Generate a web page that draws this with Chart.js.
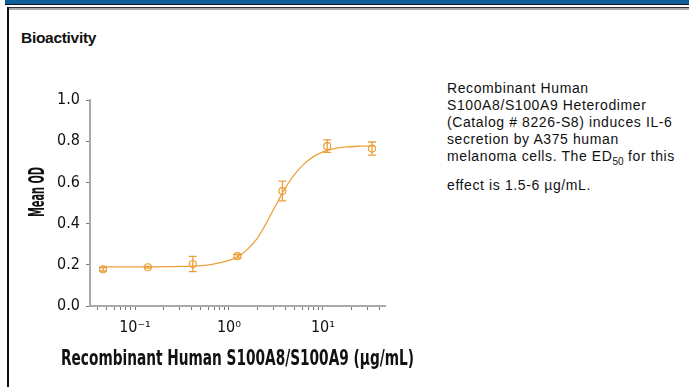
<!DOCTYPE html>
<html>
<head>
<meta charset="utf-8">
<script src="https://cdn.jsdelivr.net/npm/chart.js@4.4.1/dist/chart.umd.min.js"></script>
<style>
html, body { margin: 0; padding: 0; background: #fff; width: 689px; height: 387px; overflow: hidden; position: relative; font-family: "Liberation Sans", Arial, sans-serif; }
#topbar { position: absolute; left: 5px; top: 0; width: 684px; height: 4px; background: #0f5e9c; }
#line1 { position: absolute; left: 5px; top: 4px; width: 684px; height: 1px; background: #111; }
#line2 { position: absolute; left: 7px; top: 7px; width: 682px; height: 1px; background: #333; }
#line3 { position: absolute; left: 7px; top: 8px; width: 682px; height: 2px; background: #aaa; }
#leftborder { position: absolute; left: 7px; top: 7px; width: 2px; height: 380px; background: #111; }
#heading { position: absolute; left: 21px; top: 29px; font-weight: bold; font-size: 15.5px; color: #111; letter-spacing: -0.3px; }
#desc { position: absolute; left: 447px; top: 80px; width: 242px; font-size: 14px; letter-spacing: 0.6px; line-height: 17px; color: #111; white-space: nowrap; }
#desc sub { font-size: 10px; vertical-align: -4px; line-height: 0; letter-spacing: 0; }
#desc .last { display: block; margin-top: 12px; }
#wrap { position: absolute; left: 0; top: 0; width: 440px; height: 387px; }
</style>
</head>
<body>
<div id="topbar"></div>
<div id="line1"></div>
<div id="line2"></div>
<div id="line3"></div>
<div id="leftborder"></div>
<div id="heading">Bioactivity</div>
<div id="desc">Recombinant Human<br>S100A8/S100A9 Heterodimer<br>(Catalog # 8226-S8) induces IL-6<br>secretion by A375 human<br>melanoma cells. The ED<sub>50</sub> for this<span class="last">effect is 1.5-6 µg/mL.</span></div>
<div id="wrap"><canvas id="chart"></canvas></div>
<script>
// measured points (dose in ug/mL, mean OD, error)
const doseX = [0.0457, 0.137, 0.412, 1.23, 3.70, 11.1, 33.3];
const meanOD = [0.178, 0.188, 0.204, 0.242, 0.558, 0.776, 0.764];
const errOD = [0.008, 0.004, 0.037, 0.008, 0.048, 0.030, 0.032];

// fitted curve
const fitX = [0.0447, 0.1, 0.316, 0.562, 1.0, 1.26, 1.58, 2.0, 2.51, 3.16, 3.98, 5.01, 6.31, 7.94, 10.0, 12.6, 17.8, 25.1, 35.5];
const fitOD = [0.190, 0.190, 0.192, 0.197, 0.221, 0.241, 0.276, 0.328, 0.405, 0.490, 0.573, 0.640, 0.690, 0.725, 0.748, 0.762, 0.772, 0.776, 0.778];

// axis ticks
const xTickValues = [0.04, 0.05, 0.06, 0.07, 0.08, 0.09, 0.1, 0.2, 0.3, 0.4, 0.5, 0.6, 0.7, 0.8, 0.9, 1, 2, 3, 4, 5, 6, 7, 8, 9, 10, 20, 30, 40];
const xMajorTicks = [0.1, 1, 10];
const xMajorLabels = ['10⁻¹', '10⁰', '10¹'];
const yTickValues = [0, 0.2, 0.4, 0.6, 0.8, 1.0];

const xTitle = 'Recombinant Human S100A8/S100A9 (µg/mL)';
const yTitle = 'Mean OD';

const orange = '#eca03a';
const narrow = '"Liberation Sans Narrow", "DejaVu Sans Condensed", sans-serif';

// draws the error bars using the chart scales
const errorBars = {
    id: 'errorBars',
    afterDatasetsDraw(chart) {
        const ctx = chart.ctx;
        const x = chart.scales.x;
        const y = chart.scales.y;
        ctx.save();
        ctx.strokeStyle = orange;
        ctx.lineWidth = 1.3;
        doseX.forEach((d, i) => {
            const px = x.getPixelForValue(d);
            const top = y.getPixelForValue(meanOD[i] + errOD[i]);
            const bot = y.getPixelForValue(meanOD[i] - errOD[i]);
            ctx.beginPath();
            ctx.moveTo(px, top); ctx.lineTo(px, bot);
            ctx.moveTo(px - 4, top); ctx.lineTo(px + 4, top);
            ctx.moveTo(px - 4, bot); ctx.lineTo(px + 4, bot);
            ctx.stroke();
        });
        ctx.restore();
    }
};

// axis titles, condensed to the width they have in the original
const axisTitles = {
    id: 'axisTitles',
    afterDraw(chart) {
        const ctx = chart.ctx;
        const x = chart.scales.x;
        ctx.save();
        ctx.fillStyle = '#111';
        ctx.textAlign = 'center';
        ctx.textBaseline = 'middle';
        ctx.font = 'bold 21px ' + narrow;
        ctx.fillText(xTitle, (x.left + x.right) / 2, 360, 353);
        ctx.translate(39, 192);
        ctx.rotate(-Math.PI / 2);
        ctx.font = 'bold 21px ' + narrow;
        ctx.fillText(yTitle, 0, 0, 50);
        ctx.restore();
    }
};

new Chart(document.getElementById('chart'), {
    type: 'scatter',
    data: {
        datasets: [
            {
                label: 'fit',
                data: fitX.map((v, i) => ({x: v, y: fitOD[i]})),
                showLine: true,
                borderColor: orange,
                borderWidth: 1.3,
                pointRadius: 0,
                cubicInterpolationMode: 'monotone'
            },
            {
                label: 'mean OD',
                data: doseX.map((v, i) => ({x: v, y: meanOD[i]})),
                showLine: false,
                borderColor: orange,
                backgroundColor: 'rgba(0,0,0,0)',
                borderWidth: 1.2,
                pointRadius: 3.5
            }
        ]
    },
    options: {
        responsive: true,
        maintainAspectRatio: false,
        animation: false,
        layout: { padding: { top: 100, right: 55, left: 0, bottom: 0 } },
        plugins: { legend: { display: false }, tooltip: { enabled: false } },
        scales: {
            x: {
                type: 'logarithmic',
                min: 0.0332,
                max: 45.7,
                afterFit(scale) { scale.height = 81; },
                afterBuildTicks(scale) {
                    scale.ticks = xTickValues.map(v => ({value: v, major: xMajorTicks.includes(v)}));
                },
                grid: { drawOnChartArea: false, tickLength: 4, color: '#777' },
                border: { color: '#aaa', width: 2 },
                ticks: {
                    autoSkip: false,
                    maxRotation: 0,
                    padding: 8,
                    color: '#111',
                    font: { family: narrow, size: 16 },
                    callback(value) {
                        const k = xMajorTicks.indexOf(value);
                        return k >= 0 ? xMajorLabels[k] : '';
                    }
                }
            },
            y: {
                min: 0,
                max: 1,
                afterFit(scale) { scale.width = 90; },
                afterBuildTicks(scale) {
                    scale.ticks = yTickValues.map(v => ({value: v}));
                },
                grid: { drawOnChartArea: false, tickLength: 4, color: '#777' },
                border: { color: '#aaa', width: 2 },
                ticks: {
                    padding: 6,
                    color: '#111',
                    font: { family: narrow, size: 16 },
                    callback: (value) => value.toFixed(1)
                }
            }
        }
    },
    plugins: [errorBars, axisTitles]
});
</script>
</body>
</html>
